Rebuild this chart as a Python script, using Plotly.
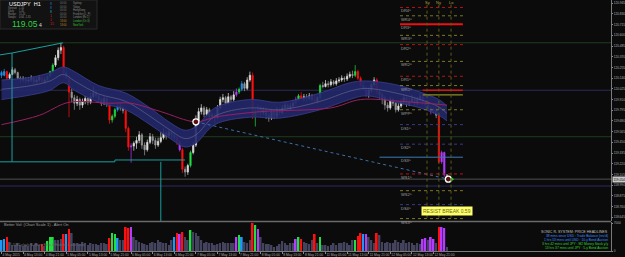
import plotly.graph_objects as go

W, H = 625, 257
PLOT_R = 611          # right edge of plotting area in px
FONT = "Liberation Sans"

def px(x):
    return x / W

def py(y):
    return 1 - y / H

# ---------------- data ----------------
bars = list(range(166))

opens = [120.20, 120.17, 120.21, 120.14, 120.18, 120.23, 120.20, 120.14, 120.12, 120.13,
         120.11, 120.12, 120.14, 120.10, 120.12, 120.15, 120.10, 120.12, 120.16, 120.21,
         120.28, 120.36, 120.44, 120.47, 120.20, 120.15, 119.99, 119.93, 119.87, 119.91,
         119.85, 119.89, 119.92, 119.88, 119.94, 119.98, 119.95, 119.91, 119.87, 119.92,
         119.86, 119.69, 119.73, 119.80, 119.84, 119.82, 119.79, 119.60, 119.40, 119.41,
         119.44, 119.47, 119.53, 119.42, 119.37, 119.45, 119.51, 119.47, 119.42, 119.46,
         119.50, 119.55, 119.52, 119.56, 119.53, 119.50, 119.45, 119.37, 119.16, 119.13,
         119.20, 119.34, 119.42, 119.67, 119.78, 119.82, 119.75, 119.80, 119.73, 119.74,
         119.72, 119.82, 119.91, 119.93, 119.87, 119.94, 119.91, 119.96, 119.99, 120.02,
         120.08, 120.03, 120.12, 120.17, 119.74, 119.78, 119.82, 119.77, 119.80, 119.74,
         119.71, 119.78, 119.73, 119.80, 119.77, 119.82, 119.85, 119.81, 119.84, 119.87,
         119.91, 119.95, 119.92, 119.94, 119.92, 119.95, 119.91, 119.89, 119.93, 120.06,
         120.05, 120.08, 120.07, 120.10, 120.08, 120.11, 120.12, 120.14, 120.13, 120.16,
         120.18, 120.17, 120.21, 120.14, 120.06, 120.03, 119.96, 120.01, 120.07, 120.12,
         119.99, 119.96, 119.93, 119.85, 119.82, 119.91, 119.87, 119.80, 119.84, 119.88,
         119.93, 119.86, 119.89, 119.92, 119.87, 119.91, 119.94, 119.88, 119.85, 119.82,
         119.78, 119.80, 119.74, 119.24, 119.34, 119.10]

highs = [120.22, 120.24, 120.22, 120.20, 120.26, 120.25, 120.21, 120.16, 120.16, 120.15,
         120.15, 120.17, 120.15, 120.15, 120.17, 120.16, 120.14, 120.17, 120.22, 120.30,
         120.39, 120.47, 120.52, 120.49, 120.25, 120.17, 120.03, 119.96, 119.95, 119.93,
         119.92, 119.95, 119.94, 119.98, 120.05, 120.01, 119.97, 119.93, 119.95, 119.94,
         119.90, 119.75, 119.82, 119.86, 119.88, 119.85, 119.82, 119.62, 119.44, 119.46,
         119.51, 119.57, 119.55, 119.45, 119.48, 119.55, 119.54, 119.50, 119.50, 119.56,
         119.60, 119.58, 119.59, 119.58, 119.56, 119.52, 119.47, 119.39, 119.19, 119.22,
         119.36, 119.46, 119.74, 119.82, 119.86, 119.84, 119.83, 119.82, 119.77, 119.76,
         119.85, 119.94, 119.97, 119.95, 119.98, 119.96, 120.00, 120.03, 120.04, 120.11,
         120.10, 120.15, 120.21, 120.20, 119.82, 119.86, 119.84, 119.83, 119.82, 119.77,
         119.81, 119.80, 119.83, 119.82, 119.85, 119.88, 119.87, 119.87, 119.90, 119.94,
         119.97, 119.99, 119.97, 119.97, 119.98, 119.97, 119.96, 119.95, 120.08, 120.10,
         120.12, 120.11, 120.13, 120.12, 120.14, 120.15, 120.17, 120.16, 120.19, 120.21,
         120.22, 120.28, 120.23, 120.16, 120.10, 120.05, 120.04, 120.09, 120.15, 120.14,
         120.01, 119.99, 119.95, 119.88, 119.94, 119.93, 119.89, 119.87, 119.92, 119.97,
         119.95, 119.93, 119.96, 119.94, 119.94, 119.98, 119.96, 119.90, 119.87, 119.84,
         119.83, 119.82, 119.76, 119.36, 119.35, 119.11]

lows = [120.14, 120.16, 120.12, 120.12, 120.17, 120.18, 120.12, 120.09, 120.10, 120.08,
        120.09, 120.10, 120.07, 120.08, 120.10, 120.08, 120.08, 120.11, 120.15, 120.19,
        120.26, 120.33, 120.40, 120.15, 120.13, 119.72, 119.88, 119.80, 119.84, 119.80,
        119.82, 119.86, 119.85, 119.86, 119.92, 119.92, 119.88, 119.84, 119.85, 119.83,
        119.65, 119.66, 119.71, 119.78, 119.79, 119.76, 119.56, 119.36, 119.23, 119.36,
        119.38, 119.44, 119.38, 119.31, 119.35, 119.43, 119.43, 119.38, 119.40, 119.44,
        119.48, 119.48, 119.50, 119.49, 119.47, 119.42, 119.35, 119.12, 119.08, 119.10,
        119.18, 119.32, 119.40, 119.65, 119.75, 119.72, 119.73, 119.69, 119.70, 119.66,
        119.70, 119.80, 119.88, 119.84, 119.86, 119.88, 119.89, 119.94, 119.97, 120.00,
        120.00, 120.01, 120.10, 119.70, 119.62, 119.75, 119.73, 119.74, 119.70, 119.67,
        119.69, 119.70, 119.71, 119.74, 119.75, 119.79, 119.78, 119.79, 119.82, 119.85,
        119.89, 119.90, 119.89, 119.89, 119.90, 119.88, 119.87, 119.87, 119.91, 120.03,
        120.04, 120.04, 120.05, 120.06, 120.06, 120.09, 120.10, 120.10, 120.11, 120.14,
        120.14, 120.15, 120.12, 120.04, 120.01, 119.94, 119.93, 119.98, 120.05, 119.96,
        119.92, 119.86, 119.80, 119.78, 119.80, 119.84, 119.77, 119.78, 119.82, 119.86,
        119.83, 119.84, 119.87, 119.84, 119.85, 119.89, 119.85, 119.82, 119.79, 119.75,
        119.76, 119.71, 119.22, 119.22, 119.08, 119.04]

closes = [120.17, 120.21, 120.14, 120.18, 120.23, 120.20, 120.14, 120.12, 120.13, 120.11,
          120.12, 120.14, 120.10, 120.12, 120.15, 120.10, 120.12, 120.16, 120.21, 120.28,
          120.36, 120.44, 120.47, 120.20, 120.15, 119.99, 119.93, 119.87, 119.91, 119.85,
          119.89, 119.92, 119.88, 119.94, 119.98, 119.95, 119.91, 119.87, 119.92, 119.86,
          119.69, 119.73, 119.80, 119.84, 119.82, 119.79, 119.60, 119.40, 119.41, 119.44,
          119.47, 119.53, 119.42, 119.37, 119.45, 119.51, 119.47, 119.42, 119.46, 119.50,
          119.55, 119.52, 119.56, 119.53, 119.50, 119.45, 119.37, 119.16, 119.13, 119.20,
          119.34, 119.42, 119.67, 119.78, 119.82, 119.75, 119.80, 119.73, 119.74, 119.72,
          119.82, 119.91, 119.93, 119.87, 119.94, 119.91, 119.96, 119.99, 120.02, 120.08,
          120.03, 120.12, 120.17, 119.74, 119.78, 119.82, 119.77, 119.80, 119.74, 119.71,
          119.78, 119.73, 119.80, 119.77, 119.82, 119.85, 119.81, 119.84, 119.87, 119.91,
          119.95, 119.92, 119.94, 119.92, 119.95, 119.91, 119.89, 119.93, 120.06, 120.05,
          120.08, 120.07, 120.10, 120.08, 120.11, 120.12, 120.14, 120.13, 120.16, 120.18,
          120.17, 120.21, 120.14, 120.06, 120.03, 119.96, 120.01, 120.07, 120.12, 119.99,
          119.96, 119.93, 119.85, 119.82, 119.91, 119.87, 119.80, 119.84, 119.88, 119.93,
          119.86, 119.89, 119.92, 119.87, 119.91, 119.94, 119.88, 119.85, 119.82, 119.78,
          119.80, 119.74, 119.24, 119.34, 119.10, 119.054]

volumes = [2750, 3000, 3500, 2250, 1500, 1500, 2000, 1500, 1250, 1500,
           1250, 2000, 1500, 2000, 1500, 1750, 1250, 2500, 3500, 3500,
           2750, 2750, 3000, 4250, 4250, 5500, 4500, 2000, 2000, 1750,
           2250, 2000, 1500, 2000, 1750, 1750, 1500, 2000, 2000, 1750,
           3250, 4500, 4250, 3250, 2750, 2750, 6000, 5750, 6000, 3500,
           2750, 2250, 2000, 1750, 1500, 2000, 2250, 2000, 2750, 2250,
           2000, 2000, 1500, 2750, 3500, 4500, 4250, 4750, 3500, 2750,
           5250, 4750, 4500, 3750, 2750, 2000, 2250, 2000, 2000, 1500,
           1750, 2000, 2250, 2000, 2000, 2000, 2000, 3500, 4000, 3500,
           2250, 2000, 2750, 7000, 6500, 5500, 3500, 2000, 1750, 1750,
           1500, 1000, 1250, 1750, 2500, 2000, 1500, 2000, 2000, 3000,
           3500, 3000, 2250, 2000, 1750, 2750, 4250, 2000, 3500, 1500,
           1500, 1250, 1500, 2000, 1500, 2000, 2000, 2250, 2000, 1500,
           2750, 2750, 3750, 4500, 4250, 4250, 3500, 2750, 2000, 4500,
           4000, 2250, 2000, 2250, 2000, 2000, 2750, 2250, 2000, 2750,
           2000, 2250, 2000, 1500, 2000, 1750, 3000, 3250, 2750, 3500,
           3000, 2000, 6000, 6000, 5750, 1000]

# signal bars (Better Volume classification)
blue_bars = [0, 1, 24, 43, 64, 89, 134]
red_bars = [2, 15, 23, 25, 40, 46, 47, 65, 67, 93, 111, 116, 132, 133, 139, 162]
green_bars = [17, 18, 19, 41, 42, 70, 88, 94, 110, 118, 131]
magenta_bars = [48, 66, 87, 95, 109, 135, 156, 157, 159, 160, 163, 164]

# Keltner-style band and moving average (sampled)
band_x = [0, 11, 18, 23, 27, 36, 46, 55, 62, 68, 72, 79, 92, 103, 118, 129, 135, 146, 155, 162, 165]
band_upper = [120.12, 120.15, 120.20, 120.26, 120.21, 120.06, 119.98, 119.82, 119.67, 119.58, 119.62,
              119.82, 119.91, 119.88, 119.98, 120.09, 120.11, 120.07, 119.99, 119.91, 119.84]
band_lower = [119.91, 119.96, 120.01, 120.09, 120.01, 119.88, 119.80, 119.64, 119.50, 119.40, 119.44,
              119.64, 119.72, 119.71, 119.80, 119.91, 119.95, 119.88, 119.82, 119.74, 119.68]
band_mid = [120.02, 120.06, 120.11, 120.18, 120.11, 119.97, 119.89, 119.73, 119.59, 119.49, 119.53,
            119.73, 119.82, 119.80, 119.89, 120.00, 120.03, 119.98, 119.91, 119.83, 119.76]

ma_x = [0, 14, 25, 40, 48, 59, 72, 79, 96, 122, 133, 148, 165]
ma_vals = [119.64, 119.74, 119.88, 119.87, 119.87, 119.78, 119.67, 119.72, 119.78, 119.82, 119.91, 119.89, 119.85]

# swing-range (cyan) lines
swing_top_x = [-0.6, 3.9, 22.8]
swing_top_y = [120.39, 120.41, 120.52]
swing_left_x = [3.9, 3.9]
swing_left_y = [120.41, 119.24]
swing_bot_x = [-0.6, 42, 42, 68]
swing_bot_y = [119.24, 119.24, 119.26, 119.26]
swing_vert_x = [59, 59]
swing_vert_y = [119.24, 118.60]

trend_x = [72, 165.5]
trend_y = [119.67, 119.054]

# full-width horizontal levels
hline_prices = [120.52, 120.01, 119.51, 119.054, 118.98]
hline_kinds = ["green", "slate", "green", "bid", "navy"]

# pivot levels on the right
lvl_prices = [120.90, 120.81, 120.72, 120.60, 120.50, 120.32, 120.16, 120.06, 119.80,
              119.64, 119.43, 119.29, 119.11, 118.93, 118.78, 118.63]
lvl_kinds = ["D", "W", "Dsolid", "W", "D", "W", "D", "W", "W", "N", "N", "Bsolid", "D", "W", "N", "W"]
lvl_labels = ["DR4^", "WR4^", "DR3^", "WR3^", "DR2^", "WR2^", "DR1^", "WR1^", "WPP^",
              "DS1^", "DS2^", "DS3^", "WS1^", "WS2^", "DS4^", "WS3^"]
day_hi_lo = [120.01, 119.96]

session_x = [157.6, 162.0, 166.5]
session_labels = ["Sy", "Ny", "Lo"]

price_ticks = [120.945, 120.830, 120.715, 120.600, 120.485, 120.370, 120.255, 120.140, 120.025,
               119.910, 119.795, 119.680, 119.565, 119.450, 119.335, 119.220, 119.105, 118.990,
               118.875, 118.760, 118.645]
price_tick_labels = ["120.945", "120.830", "120.715", "120.600", "120.485", "120.370", "120.255",
                     "120.140", "120.025", "119.910", "119.795", "119.680", "119.565", "119.450",
                     "119.335", "119.220", "119.105", "118.990", "118.875", "118.760", "118.645"]
current_price = 119.054

date_ticks = [0, 8, 16, 24, 32, 40, 48, 56, 64, 72, 80, 88, 96, 104, 112, 120, 128, 136, 144, 152, 160]
date_labels = ["4 May 2015", "4 May 13:00", "4 May 21:00", "5 May 05:00", "5 May 13:00",
               "5 May 21:00", "6 May 05:00", "6 May 13:00", "6 May 21:00", "7 May 05:00",
               "7 May 13:00", "7 May 21:00", "8 May 05:00", "8 May 13:00", "8 May 21:00",
               "11 May 05:00", "11 May 13:00", "11 May 21:00", "12 May 05:00", "12 May 13:00",
               "12 May 21:00"]

vol_ticks = [0, 7000]
vol_tick_labels = ["0", "7000"]

# ---------------- figure ----------------
X_LO, X_HI = -0.556, 225.74
P_BOT, P_TOP = 118.604, 120.98

fig = go.Figure()

def line_trace(x, y, color, width=1, dash="solid", shape="linear", **kw):
    return go.Scatter(x=x, y=y, mode="lines", line=dict(color=color, width=width, dash=dash, shape=shape),
                      hoverinfo="skip", xaxis="x", yaxis="y", **kw)

# band
fig.add_trace(line_trace(band_x, band_upper, "#3a3f90", 0.8, shape="spline"))
fig.add_trace(line_trace(band_x, band_lower, "#3a3f90", 0.8, shape="spline",
                         fill="tonexty", fillcolor="rgba(34,40,108,0.9)"))
fig.add_trace(line_trace(band_x, band_mid, "#6a6c92", 0.6, shape="spline"))
# MA
fig.add_trace(line_trace(ma_x, ma_vals, "#9a1f63", 1, shape="spline"))
# swing lines
for sx, sy in [(swing_top_x, swing_top_y), (swing_left_x, swing_left_y),
               (swing_bot_x, swing_bot_y), (swing_vert_x, swing_vert_y)]:
    fig.add_trace(line_trace(sx, sy, "#1b9e9e", 1))
# trend dotted
fig.add_trace(line_trace(trend_x, trend_y, "#3d6faa", 1, dash="dot"))

# candles
special = set(blue_bars + red_bars + green_bars + magenta_bars)
regular = [i for i in bars if i not in special]

def sub(arr, idx):
    return [arr[i] for i in idx]

def candles(idx, up_col, up_fill, dn_col, dn_fill):
    return go.Candlestick(x=idx, open=sub(opens, idx), high=sub(highs, idx), low=sub(lows, idx),
                          close=sub(closes, idx),
                          increasing=dict(line=dict(color=up_col, width=0.7), fillcolor=up_fill),
                          decreasing=dict(line=dict(color=dn_col, width=0.7), fillcolor=dn_fill),
                          whiskerwidth=0, hoverinfo="skip", xaxis="x", yaxis="y")

fig.add_trace(candles(regular, "#e0e0e0", "#e8e8e8", "#9c9c9c", "#8e8e8e"))
COLORS = {"blue": "#2196f3", "red": "#ff1010", "green": "#22dd44", "magenta": "#b43cff"}
for name, idx in [("blue", blue_bars), ("red", red_bars), ("green", green_bars), ("magenta", magenta_bars)]:
    c = COLORS[name]
    fig.add_trace(candles(idx, c, c, c, c))

# markers
fig.add_trace(go.Scatter(x=[trend_x[0], trend_x[1]], y=[trend_y[0], trend_y[1]], mode="markers",
                         marker=dict(symbol="circle", size=6, color="#5a1010",
                                     line=dict(color="#ffffff", width=1.3)),
                         hoverinfo="skip", xaxis="x", yaxis="y"))
fig.add_trace(go.Scatter(x=[trend_x[1] + 1.4], y=[current_price], mode="markers",
                         marker=dict(symbol="triangle-right", size=4, color="#22cc22"),
                         hoverinfo="skip", xaxis="x", yaxis="y"))

# volume
vcol = []
for i in bars:
    if i in blue_bars:
        vcol.append(COLORS["blue"])
    elif i in red_bars:
        vcol.append(COLORS["red"])
    elif i in green_bars:
        vcol.append(COLORS["green"])
    elif i in magenta_bars:
        vcol.append(COLORS["magenta"])
    else:
        vcol.append("#43435e")
fig.add_trace(go.Bar(x=bars, y=volumes, marker=dict(color=vcol, line=dict(width=0)),
                     hoverinfo="skip", xaxis="x2", yaxis="y2"))

# ---------------- shapes ----------------
shapes = []
HCOL = {"green": "#1e3d1e", "slate": "#2c2c5c", "bid": "#505050", "navy": "#2c2c66"}
for p, k in zip(hline_prices, hline_kinds):
    shapes.append(dict(type="line", xref="paper", yref="y", x0=0, x1=PLOT_R / W, y0=p, y1=p,
                       line=dict(color=HCOL[k], width=1), layer="below"))

LV_X0, LV_X1 = 147.6, 170.9
for p, k in zip(lvl_prices, lvl_kinds):
    if k == "D":
        ln = dict(color="#b81414", width=1, dash="dot")
        x0 = LV_X0
    elif k == "W":
        ln = dict(color="#7a7a26", width=1, dash="dot")
        x0 = LV_X0
    elif k == "N":
        ln = dict(color="#3a3a8c", width=1, dash="dot")
        x0 = LV_X0
    elif k == "Dsolid":
        ln = dict(color="#ee1111", width=2)
        x0 = LV_X0
    else:
        ln = dict(color="#3a7ab8", width=1)
        x0 = 140
    shapes.append(dict(type="line", xref="x", yref="y", x0=x0, x1=LV_X1, y0=p, y1=p, line=ln))
shapes.append(dict(type="line", xref="x", yref="y", x0=156, x1=LV_X1, y0=day_hi_lo[0], y1=day_hi_lo[0],
                   line=dict(color="#dd1111", width=1.5)))
shapes.append(dict(type="line", xref="x", yref="y", x0=156, x1=LV_X1, y0=day_hi_lo[1], y1=day_hi_lo[1],
                   line=dict(color="#8c8c22", width=1.2)))
for sx in session_x:
    shapes.append(dict(type="line", xref="x", yref="y", x0=sx, x1=sx, y0=120.93, y1=118.63,
                       line=dict(color="#5c5c1c", width=1, dash="dot")))

# panel separator
shapes.append(dict(type="line", xref="paper", yref="paper", x0=0, x1=PLOT_R / W, y0=py(221.5), y1=py(221.5),
                   line=dict(color="#6a6a6a", width=1.5)))
# info box
shapes.append(dict(type="rect", xref="paper", yref="paper", x0=0, x1=px(97), y0=py(29), y1=1,
                   fillcolor="#121212", line=dict(color="#2a2a2a", width=1), layer="above"))

# ---------------- annotations ----------------
ann = []

def txt(x, y, s, color, size=4, xanchor="left", yanchor="middle", **kw):
    ann.append(dict(x=px(x), y=py(y), xref="paper", yref="paper", text=s, showarrow=False,
                    font=dict(size=size, color=color, family=FONT), xanchor=xanchor, yanchor=yanchor,
                    borderpad=0, **kw))

# info box contents
txt(8, 4.0, "USDJPY  H1", "#ffffff", 5.5)
for yy, lab, val in [(8, "Spread:", "1.10"), (11, "Daily:", "1.45"), (14, "Range:", "11.20"),
                     (17, "Swaps:", "0.64 -1.35")]:
    txt(7, yy, lab, "#8a8a8a", 2.6)
    txt(18, yy, val, "#8a8a8a", 2.6)
txt(11, 24, "119.05", "#2fd23f", 8.5)
txt(38, 25, "4", "#dddddd", 5)
for yy, s, c in [(4, "8", "#2d6fd0"), (8, "8", "#2d6fd0"), (12, "8", "#2aa0a0"),
                 (16, "1", "#cc2020"), (20, "1", "#cc2020"), (24, "15", "#cc2020")]:
    txt(49, yy, s, c, 3.5)
sessions = ["Sydney", "Tokyo", "HongKong", "Frankfurt (L_P)", "London (Ex 1)",
            "London (Ov 3)", "NewYork"]
for k, name in enumerate(sessions):
    yy = 3.5 + 3.5 * k
    tcol = "#c08a20" if k >= 5 else "#7a7a7a"
    ncol = "#33c033" if k >= 5 else "#8a8a8a"
    txt(59, yy, "18:00" if k >= 5 else "00:00", tcol, 2.6)
    txt(72, yy, name, ncol, 2.6)

# pivot labels
for p, lab in zip(lvl_prices, lvl_labels):
    ann.append(dict(x=LV_X0, y=p, xref="x", yref="y", text=lab, showarrow=False,
                    font=dict(size=4, color="#a0a0a0", family=FONT), xanchor="left", yanchor="top",
                    borderpad=0))
for sx, lab in zip(session_x, session_labels):
    ann.append(dict(x=sx, y=py(3), xref="x", yref="paper", text=lab, showarrow=False,
                    font=dict(size=4, color="#a8a840", family=FONT), xanchor="center", yanchor="middle",
                    borderpad=0))

# yellow break box
ann.append(dict(x=(156 + 174) / 2, y=118.71, xref="x", yref="y", text="RESIST BREAK 0.59", showarrow=False,
                font=dict(size=5, color="#6a6a10", family=FONT), bgcolor="#ffff6e", borderpad=1,
                xanchor="center", yanchor="middle"))

# current price label on axis
ann.append(dict(x=px(612), y=current_price, xref="paper", yref="y", text="119.054", showarrow=False,
                font=dict(size=3.2, color="#000000", family=FONT), bgcolor="#c8c8c8", borderpad=0.5,
                xanchor="left", yanchor="middle"))

# volume panel texts
txt(3, 224.5, "Better Vol: (Chart Scale 1) - Alert On", "#a0a0a0", 4)
txt(8, 244.5, "© 2015 phylo & Harry Beta 4 Hedonic Labs Corp", "#6a6a6a", 3.5)
txt(609, 232, "SONIC R. SYSTEM: PRICE HEADLINES", "#c0c0c0", 3.6, xanchor="right")
txt(609, 236, "38 mins since USD : Trade Balance (rev'd)", "#3b8cff", 3.3, xanchor="right")
txt(609, 240, "1 hrs 53 mins until USD : 10-y Bond Auction", "#3b8cff", 3.3, xanchor="right")
txt(609, 244, "3 hrs 42 mins until JPY : M2 Money Stock y/y", "#2ed62e", 3.3, xanchor="right")
txt(609, 248, "13 hrs 37 mins until JPY : 5-y Bond Auction", "#2ed62e", 3.3, xanchor="right")

fig.update_layout(
    width=W, height=H, margin=dict(l=0, r=0, t=0, b=0, autoexpand=False),
    paper_bgcolor="#0b0b0b", plot_bgcolor="#0b0b0b",
    showlegend=False, boxgap=0.3, bargap=0.35,
    shapes=shapes, annotations=ann,
    xaxis=dict(domain=[0, PLOT_R / W], range=[X_LO, X_HI], showticklabels=False, showgrid=False,
               zeroline=False, rangeslider=dict(visible=False), anchor="y", ticks="", automargin=False),
    yaxis=dict(domain=[py(221), 1], range=[P_BOT, P_TOP], side="right", anchor="x",
               tickvals=price_ticks, ticktext=price_tick_labels, ticks="outside", ticklen=1,
               tickcolor="#8a8a8a", tickfont=dict(size=3.2, color="#b0b0b0", family=FONT),
               ticklabelstandoff=0,
               showgrid=False, zeroline=False, showline=True, linecolor="#7a7a7a", linewidth=1,
               automargin=False),
    xaxis2=dict(domain=[0, PLOT_R / W], range=[X_LO, X_HI], anchor="y2", tickvals=date_ticks,
                ticktext=date_labels, ticks="outside", ticklen=2, tickcolor="#8a8a8a",
                ticklabelposition="outside right", tickangle=0,
                tickfont=dict(size=3.3, color="#a8a8a8", family=FONT), showgrid=False, zeroline=False,
                showline=True, linecolor="#7a7a7a", linewidth=1, automargin=False),
    yaxis2=dict(domain=[py(251), py(222)], range=[0, 7250], side="right", anchor="x2",
                tickvals=vol_ticks, ticktext=vol_tick_labels, ticks="outside", ticklen=1,
                tickcolor="#8a8a8a", tickfont=dict(size=3.2, color="#b0b0b0", family=FONT),
                ticklabelstandoff=0,
                showgrid=False, zeroline=False, showline=True, linecolor="#7a7a7a", linewidth=1,
                automargin=False),
)

fig.write_html("out.html")
